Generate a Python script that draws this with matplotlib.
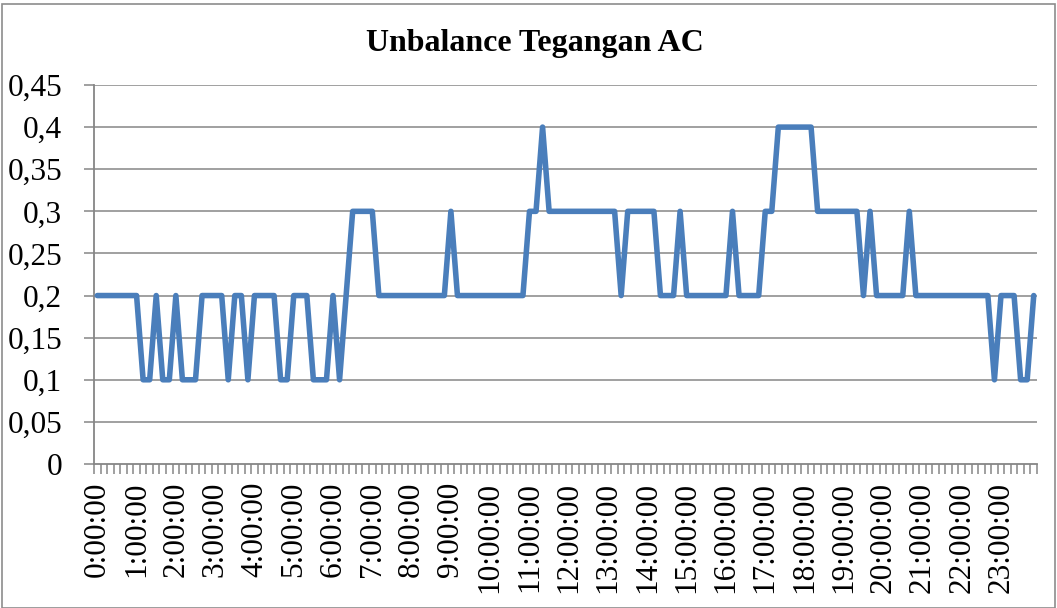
import matplotlib
matplotlib.use("Agg")
import matplotlib.pyplot as plt
from matplotlib.patches import Rectangle
import numpy as np

# 10-minute samples, 0:00:00 .. 23:50:00 (144 values)
unbalance = [
    0.2, 0.2, 0.2, 0.2, 0.2, 0.2, 0.2, 0.1, 0.1, 0.2,   # 0-9
    0.1, 0.1, 0.2, 0.1, 0.1, 0.1, 0.2, 0.2, 0.2, 0.2,   # 10-19
    0.1, 0.2, 0.2, 0.1, 0.2, 0.2, 0.2, 0.2, 0.1, 0.1,   # 20-29
    0.2, 0.2, 0.2, 0.1, 0.1, 0.1, 0.2, 0.1, 0.2, 0.3,   # 30-39
    0.3, 0.3, 0.3, 0.2, 0.2, 0.2, 0.2, 0.2, 0.2, 0.2,   # 40-49
    0.2, 0.2, 0.2, 0.2, 0.3, 0.2, 0.2, 0.2, 0.2, 0.2,   # 50-59
    0.2, 0.2, 0.2, 0.2, 0.2, 0.2, 0.3, 0.3, 0.4, 0.3,   # 60-69
    0.3, 0.3, 0.3, 0.3, 0.3, 0.3, 0.3, 0.3, 0.3, 0.3,   # 70-79
    0.2, 0.3, 0.3, 0.3, 0.3, 0.3, 0.2, 0.2, 0.2, 0.3,   # 80-89
    0.2, 0.2, 0.2, 0.2, 0.2, 0.2, 0.2, 0.3, 0.2, 0.2,   # 90-99
    0.2, 0.2, 0.3, 0.3, 0.4, 0.4, 0.4, 0.4, 0.4, 0.4,   # 100-109
    0.3, 0.3, 0.3, 0.3, 0.3, 0.3, 0.3, 0.2, 0.3, 0.2,   # 110-119
    0.2, 0.2, 0.2, 0.2, 0.3, 0.2, 0.2, 0.2, 0.2, 0.2,   # 120-129
    0.2, 0.2, 0.2, 0.2, 0.2, 0.2, 0.2, 0.1, 0.2, 0.2,   # 130-139
    0.2, 0.1, 0.1, 0.2,                                 # 140-143
]

hour_labels = [
    "0:00:00", "1:00:00", "2:00:00", "3:00:00", "4:00:00", "5:00:00",
    "6:00:00", "7:00:00", "8:00:00", "9:00:00", "10:00:00", "11:00:00",
    "12:00:00", "13:00:00", "14:00:00", "15:00:00", "16:00:00", "17:00:00",
    "18:00:00", "19:00:00", "20:00:00", "21:00:00", "22:00:00", "23:00:00",
]
samples_per_hour = 6

y_ticks = [0, 0.05, 0.1, 0.15, 0.2, 0.25, 0.3, 0.35, 0.4, 0.45]
y_tick_labels = ["0", "0,05", "0,1", "0,15", "0,2", "0,25", "0,3", "0,35", "0,4", "0,45"]

title = "Unbalance Tegangan AC"

W, H = 1057, 608
fig = plt.figure(figsize=(W / 100, H / 100), dpi=100)
fig.patch.set_facecolor("white")
fig.patches.append(Rectangle((2 / W, 0), (W - 4) / W, (H - 4) / H,
                             transform=fig.transFigure, fill=False,
                             edgecolor="#8c8c8c", linewidth=1.2))

left, right, top, bottom = 94, 1037, 85, 464
ax = fig.add_axes([left / W, (H - bottom) / H, (right - left) / W, (bottom - top) / H])

serif = ["Liberation Serif", "DejaVu Serif"]
grid_col = "#868686"

x = np.arange(len(unbalance))
ax.plot(x, unbalance, color="#4a7ebb", linewidth=4.0, solid_joinstyle="round",
        solid_capstyle="round", zorder=3, clip_on=False)

ax.set_xlim(-0.5, len(unbalance) - 0.5)
ax.set_ylim(0, 0.45)

ax.set_yticks(y_ticks)
ax.set_yticklabels(y_tick_labels, fontfamily=serif, fontsize=22.5)
for yv in y_ticks[1:]:
    ax.axhline(yv, color=grid_col, linewidth=1.1, zorder=1)

major_pos = [i * samples_per_hour for i in range(len(hour_labels))]
ax.set_xticks(major_pos)
ax.set_xticklabels(hour_labels, rotation=90, fontfamily=serif, fontsize=22.5,
                   va="top", ha="center")
ax.set_xticks(np.arange(-0.5, len(unbalance), 1.0), minor=True)

ax.tick_params(axis="x", which="major", length=0, pad=13)
ax.tick_params(axis="x", which="minor", length=7, width=1.1, color=grid_col, direction="out")
ax.tick_params(axis="y", which="major", length=7, width=1.1, color=grid_col,
               direction="out", pad=16)

for s in ["top", "right"]:
    ax.spines[s].set_visible(False)
for s in ["left", "bottom"]:
    ax.spines[s].set_color(grid_col)
    ax.spines[s].set_linewidth(1.3)

fig.text(535 / W, 1 - 44 / H, title, ha="center", va="center",
         fontfamily=serif, fontweight="bold", fontsize=23)

fig.savefig("out.png", dpi=100)
